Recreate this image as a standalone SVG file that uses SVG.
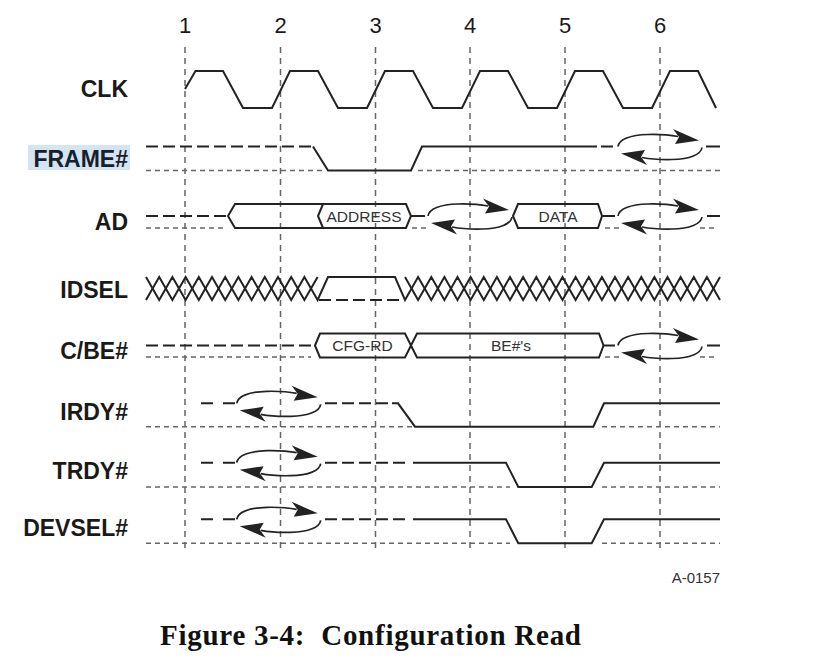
<svg xmlns="http://www.w3.org/2000/svg" width="813" height="667" viewBox="0 0 813 667">
<style>
.sig{fill:none;stroke:#222;stroke-width:2;stroke-linejoin:miter}
.flt{fill:none;stroke:#222;stroke-width:2;stroke-dasharray:12 5}
.dot{fill:none;stroke:#666;stroke-width:1.5;stroke-dasharray:5 4}
.grid{fill:none;stroke:#666;stroke-width:1.5;stroke-dasharray:6 5}
.lbl{font-family:"Liberation Sans",Arial,Helvetica,sans-serif;font-weight:bold;font-size:23px;text-anchor:end;fill:#1a1a1a}
.num{font-family:"Liberation Sans",Arial,Helvetica,sans-serif;font-size:22px;text-anchor:middle;fill:#1a1a1a}
.bus{font-family:"Liberation Sans",Arial,Helvetica,sans-serif;font-size:15.5px;text-anchor:middle;fill:#333}
.arc{fill:none;stroke:#222;stroke-width:1.7}
.head{fill:#222;stroke:none}
</style>
<defs>
<g id="ta">
<path class="arc" d="M0,0 C1,-7 12,-11.5 30,-12 C42,-12.3 52,-11.5 60,-10"/>
<path class="head" d="M81,-6 L55,-17.5 L61,-9.5 L57,-2.5 Z"/>
<path class="arc" d="M84,1 C83,8 72,12.5 54,13 C42,13.3 32,12.5 24,11"/>
<path class="head" d="M3,7 L29,18.5 L23,10.5 L27,3.5 Z"/>
</g>
</defs>

<g id="grid">
<path class="grid" d="M185,47 V553 M280.5,47 V553 M375.5,47 V553 M470,47 V553 M565,47 V553 M660,47 V553"/>
<text class="num" x="185" y="33">1</text>
<text class="num" x="280.5" y="33">2</text>
<text class="num" x="375.5" y="33">3</text>
<text class="num" x="470" y="33">4</text>
<text class="num" x="565" y="33">5</text>
<text class="num" x="660" y="33">6</text>
</g>

<g id="clk">
<text class="lbl" x="128" y="97">CLK</text>
<path class="sig" d="M185,89 L195.5,71 L223,71 L243,108 L272,108 L290,71 L318,71 L338,108 L367,108 L385,71 L413,71 L433,108 L462,108 L480,71 L508,71 L528,108 L557,108 L575,71 L603,71 L623,108 L652,108 L670,71 L698,71 L716,108"/>
</g>

<g id="frame">
<rect x="28" y="145" width="102" height="25" fill="#d3e5f3"/>
<text class="lbl" x="128" y="167" style="fill:#17202c">FRAME#</text>
<path class="dot" d="M146,170.5 H322 M418,170.5 H720"/>
<path class="flt" d="M146,146.5 H313"/>
<path class="sig" d="M313,146.5 L328,170.5 H411 L422,146.5 H597"/>
<path class="sig" d="M601,146.5 H613 M706,146.5 H720"/>
<use href="#ta" transform="translate(618,146.5)"/>
</g>

<g id="ad">
<text class="lbl" x="128" y="230">AD</text>
<path class="dot" d="M146,228 H226 M412,228 H427 M605,228 H620 M700,228 H717"/>
<path class="flt" d="M146,216 H228"/>
<path class="sig" d="M228,216 L235,204 H406 L411,216 L406,228 H235 Z M323,204 L318,216 L323,228"/>
<text class="bus" x="364" y="221.5">ADDRESS</text>
<path class="sig" d="M411,216 H425"/>
<use href="#ta" transform="translate(428,216)"/>
<path class="sig" d="M513,216 L518,204 H598 L602,216 L598,228 H518 Z"/>
<text class="bus" x="558" y="221.5">DATA</text>
<path class="sig" d="M602,216 H615 M707,216 H720"/>
<use href="#ta" transform="translate(618,216)"/>
</g>

<g id="idsel">
<text class="lbl" x="128" y="298">IDSEL</text>
<path class="sig" d="M146,277 L159.2,300 L172.4,277 L185.6,300 L198.8,277 L212,300 L225.2,277 L238.4,300 L251.6,277 L264.8,300 L278,277 L291.2,300 L304.4,277 L317.6,300 L328,277 L395,277 L405,300 L418.1,277 L431.3,300 L444.4,277 L457.5,300 L470.6,277 L483.8,300 L496.9,277 L510,300 L523.1,277 L536.3,300 L549.4,277 L562.5,300 L575.6,277 L588.8,300 L601.9,277 L615,300 L628.1,277 L641.3,300 L654.4,277 L667.5,300 L680.6,277 L693.8,300 L706.9,277 L720,300"/>
<path class="sig" d="M146,300 L159.2,277 L172.4,300 L185.6,277 L198.8,300 L212,277 L225.2,300 L238.4,277 L251.6,300 L264.8,277 L278,300 L291.2,277 L304.4,300 L317.6,277"/>
<path class="sig" d="M405,277 L418.1,300 L431.3,277 L444.4,300 L457.5,277 L470.6,300 L483.8,277 L496.9,300 L510,277 L523.1,300 L536.3,277 L549.4,300 L562.5,277 L575.6,300 L588.8,277 L601.9,300 L615,277 L628.1,300 L641.3,277 L654.4,300 L667.5,277 L680.6,300 L693.8,277 L706.9,300 L720,277"/>
<path class="flt" d="M319,300 H404"/>
</g>

<g id="cbe">
<text class="lbl" x="128" y="359">C/BE#</text>
<path class="dot" d="M146,357 H311 M605,357 H620 M700,357 H717"/>
<path class="flt" d="M146,345.5 H313"/>
<path class="sig" d="M315,345.5 L320,333.5 H405 L417,357.5 H599 L603.5,345.5 L599,333.5 H417 L405,357.5 H320 Z"/>
<text class="bus" x="362.5" y="351">CFG-RD</text>
<text class="bus" x="511" y="351">BE#'s</text>
<path class="sig" d="M603.5,345.5 H615 M707,345.5 H720"/>
<use href="#ta" transform="translate(618,345.5)"/>
</g>

<g id="irdy">
<text class="lbl" x="128" y="420">IRDY#</text>
<path class="dot" d="M146,426.7 H412 M602,426.7 H720"/>
<path class="flt" d="M201,403.3 H236.7" style="stroke-dasharray:12 10"/>
<use href="#ta" transform="translate(236.7,403.3)"/>
<path class="flt" d="M325,403.3 H390"/>
<path class="sig" d="M392,403.3 H398 L415,426.7 H593.3 L604,403.3 H720"/>
</g>

<g id="trdy">
<text class="lbl" x="128" y="479">TRDY#</text>
<path class="dot" d="M146,487 H510 M602,487 H720"/>
<path class="flt" d="M201,462.7 H236.7" style="stroke-dasharray:12 10"/>
<use href="#ta" transform="translate(236.7,462.7)"/>
<path class="flt" d="M325,462.7 H408"/>
<path class="sig" d="M413,462.7 H506 L518.3,487 H591.7 L604,462.7 H720"/>
</g>

<g id="devsel">
<text class="lbl" x="128" y="536">DEVSEL#</text>
<path class="dot" d="M146,543.3 H510 M602,543.3 H720"/>
<path class="flt" d="M201,519.3 H236.7" style="stroke-dasharray:12 10"/>
<use href="#ta" transform="translate(236.7,519.3)"/>
<path class="flt" d="M325,519.3 H408"/>
<path class="sig" d="M413,519.3 H506 L518.3,543.3 H591.7 L604,519.3 H720"/>
</g>

<g id="notes">
<text x="720" y="583" style="font-family:'Liberation Sans',Arial,sans-serif;font-size:15px;text-anchor:end;fill:#333">A-0157</text>
<text x="160" y="645" xml:space="preserve" textLength="421" lengthAdjust="spacing" style="font-family:'Liberation Serif','Times New Roman',serif;font-weight:bold;font-size:29px;fill:#111">Figure 3-4:  Configuration Read</text>
</g>
</svg>
